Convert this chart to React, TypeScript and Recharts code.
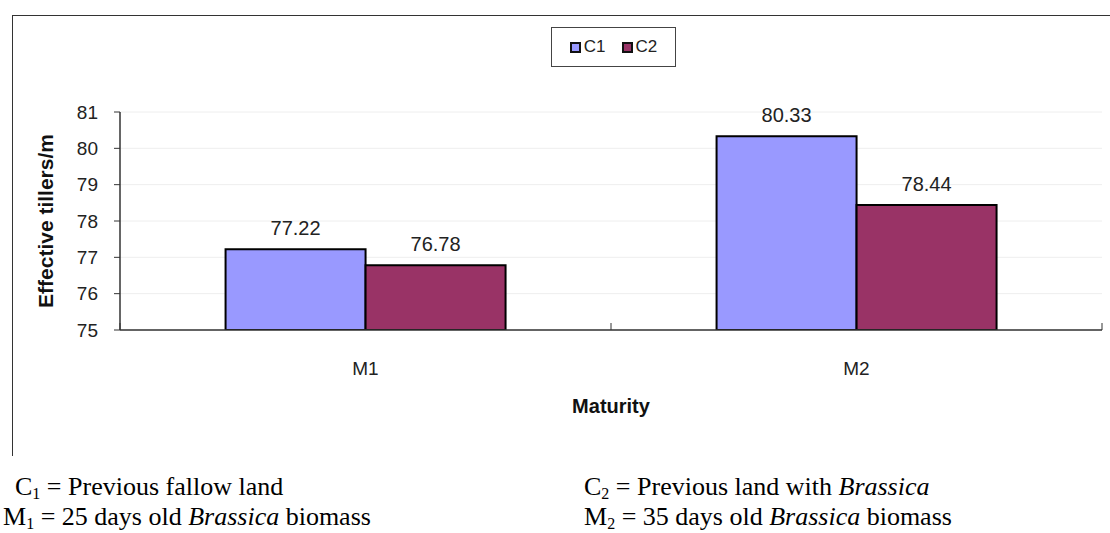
import React from "react";
import {
  BarChart,
  Bar,
  XAxis,
  YAxis,
  CartesianGrid,
  LabelList,
} from "recharts";

// Effective tillers per metre by maturity (M) and previous land use (C).
const maturities = ["M1", "M2"];
const c1Values = [77.22, 80.33];
const c2Values = [76.78, 78.44];
const yTicks = [75, 76, 77, 78, 79, 80, 81];

const SERIES = [
  { key: "C1", values: c1Values, fill: "#9999FF" },
  { key: "C2", values: c2Values, fill: "#993366" },
];

const data = maturities.map((m, i) => ({
  name: m,
  C1: c1Values[i],
  C2: c2Values[i],
}));

const AXIS_FONT = "Arial, 'Liberation Sans', sans-serif";

// Category label at the band centre, tick marks on band boundaries pointing up.
function CategoryTick(props: any) {
  const { x, y, payload, index, visibleTicksCount } = props;
  const half = payload?.offset ?? 0;
  const isLast = index === visibleTicksCount - 1;
  return (
    <g>
      <line x1={x - half} x2={x - half} y1={y} y2={y - 7} stroke="#333" strokeWidth={1} />
      {isLast && (
        <line x1={x + half} x2={x + half} y1={y} y2={y - 7} stroke="#333" strokeWidth={1} />
      )}
      <text
        x={x}
        y={y + 45}
        textAnchor="middle"
        fontFamily={AXIS_FONT}
        fontSize={19}
        fill="#222"
      >
        {payload.value}
      </text>
    </g>
  );
}

function LegendBox() {
  return (
    <div
      style={{
        position: "absolute",
        left: 551,
        top: 27,
        boxSizing: "border-box",
        width: 125,
        height: 40,
        border: "1.5px solid #444",
        display: "flex",
        alignItems: "center",
        justifyContent: "center",
        gap: 16,
        fontFamily: AXIS_FONT,
        fontSize: 17,
        color: "#222",
      }}
    >
      {SERIES.map((s) => (
        <span key={s.key} style={{ display: "flex", alignItems: "center" }}>
          <span
            style={{
              display: "inline-block",
              width: 7,
              height: 7,
              background: s.fill,
              border: "2px solid #111",
              marginRight: 3,
            }}
          />
          {s.key}
        </span>
      ))}
    </div>
  );
}

const footStyle: React.CSSProperties = {
  position: "absolute",
  fontFamily: "'Liberation Serif', 'Times New Roman', serif",
  fontSize: 26,
  color: "#000",
  whiteSpace: "nowrap",
  lineHeight: "30px",
};

const subStyle: React.CSSProperties = { fontSize: 16, verticalAlign: "-4px", lineHeight: 0 };

export default function App() {
  return (
    <div
      style={{
        position: "absolute",
        left: 0,
        top: 0,
        width: 1110,
        height: 533,
        background: "#fff",
        overflow: "hidden",
      }}
    >
      {/* chart frame: only the top and left edges fall inside the view */}
      <div
        style={{
          position: "absolute",
          left: 12,
          top: 15,
          width: 1110,
          height: 440,
          borderTop: "1.5px solid #333",
          borderLeft: "1.5px solid #333",
        }}
      />
      <div style={{ position: "absolute", left: 0, top: 0 }}>
        <BarChart
          width={1110}
          height={533}
          data={data}
          margin={{ top: 112, right: 8, bottom: 103, left: 20 }}
          barCategoryGap="21.5%"
          barGap={0}
        >
          <CartesianGrid vertical={false} stroke="#eeeeee" strokeWidth={1} />
          <XAxis
            dataKey="name"
            height={100}
            axisLine={{ stroke: "#333", strokeWidth: 1.5 }}
            tickLine={false}
            tickSize={0}
            tickMargin={0}
            tick={<CategoryTick />}
            interval={0}
            label={({ viewBox }: any) => (
              <text
                x={viewBox.x + viewBox.width / 2}
                y={viewBox.y + 83}
                textAnchor="middle"
                fontFamily={AXIS_FONT}
                fontSize={20}
                fontWeight="bold"
                fill="#111"
              >
                Maturity
              </text>
            )}
          />
          <YAxis
            width={100}
            domain={[75, 81]}
            ticks={yTicks}
            interval={0}
            allowDataOverflow
            axisLine={{ stroke: "#333", strokeWidth: 1.5 }}
            tickLine={{ stroke: "#333" }}
            tickSize={6}
            tickMargin={16}
            tick={{ fontFamily: AXIS_FONT, fontSize: 19, fill: "#222" }}
            label={({ viewBox }: any) => {
              const cx = viewBox.x + 25;
              const cy = viewBox.y + viewBox.height / 2;
              return (
                <text
                  x={cx}
                  y={cy}
                  transform={`rotate(-90 ${cx} ${cy})`}
                  textAnchor="middle"
                  dominantBaseline="central"
                  fontFamily={AXIS_FONT}
                  fontSize={21}
                  fontWeight="bold"
                  fill="#111"
                >
                  Effective tillers/m
                </text>
              );
            }}
          />
          {SERIES.map((s) => (
            <Bar
              key={s.key}
              dataKey={s.key}
              fill={s.fill}
              stroke="#000"
              strokeWidth={2}
              isAnimationActive={false}
            >
              <LabelList
                dataKey={s.key}
                position="top"
                offset={14}
                fontFamily={AXIS_FONT}
                fontSize={20}
                fill="#222"
                formatter={(v: any) => Number(v).toFixed(2)}
              />
            </Bar>
          ))}
        </BarChart>
      </div>
      <LegendBox />
      <div style={{ ...footStyle, left: 15, top: 472 }}>
        C<sub style={subStyle}>1</sub> = Previous fallow land
      </div>
      <div style={{ ...footStyle, left: 3, top: 502 }}>
        M<sub style={subStyle}>1</sub> = 25 days old <i>Brassica</i> biomass
      </div>
      <div style={{ ...footStyle, left: 584, top: 472 }}>
        C<sub style={subStyle}>2</sub> = Previous land with <i>Brassica</i>
      </div>
      <div style={{ ...footStyle, left: 584, top: 502 }}>
        M<sub style={subStyle}>2</sub> = 35 days old <i>Brassica</i> biomass
      </div>
    </div>
  );
}
